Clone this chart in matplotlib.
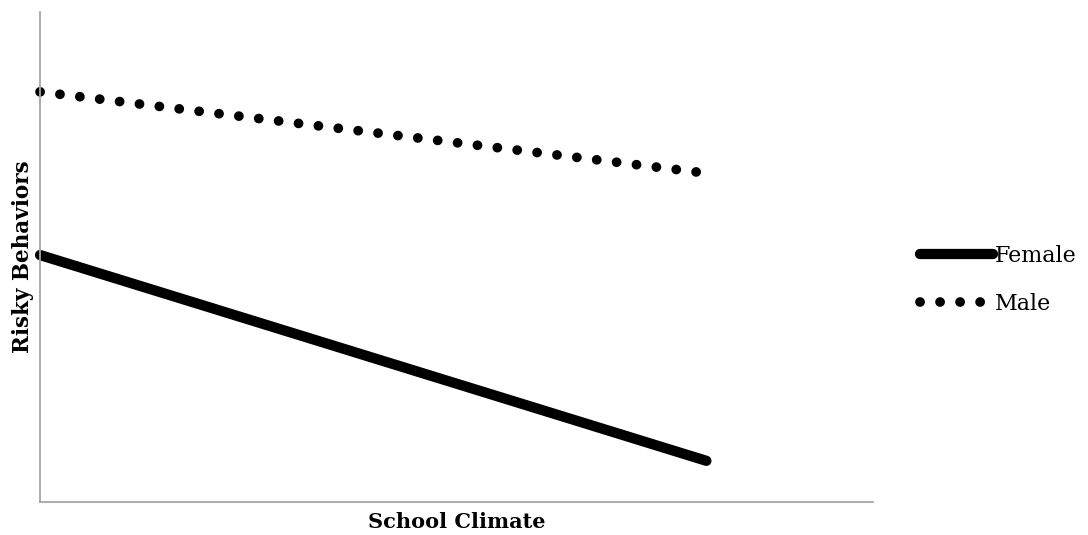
import matplotlib
matplotlib.use("Agg")
import matplotlib.pyplot as plt

# Simple slopes: risky behaviors vs school climate, by gender
climate = [0, 1]
female = [0.504, 0.084]
male = [0.837, 0.671]
series_labels = ["Female", "Male"]

plt.rcParams['font.family'] = ['DejaVu Serif']

fig = plt.figure(figsize=(10.88, 5.35), dpi=100)
ax = fig.add_axes([0.0368, 0.0617, 0.7656, 0.9159])

ax.plot(climate, female, color='black', linewidth=7.4,
        solid_capstyle='round', label=series_labels[0], clip_on=False)
ax.plot(climate, male, color='black', linewidth=7.0,
        linestyle=(0, (0.01, 2.05)), dash_capstyle='round',
        label=series_labels[1], clip_on=False)

ax.set_xlim(0, 1.25)
ax.set_ylim(0, 1)
ax.set_xticks([])
ax.set_yticks([])
for side in ['top', 'right']:
    ax.spines[side].set_visible(False)
for side in ['left', 'bottom']:
    ax.spines[side].set_color('#a6a6a6')
    ax.spines[side].set_linewidth(1.3)

ax.set_xlabel("School Climate", fontsize=15, fontweight='bold', labelpad=7)
ax.set_ylabel("Risky Behaviors", fontsize=15.5, fontweight='bold', labelpad=4)

ax.legend(loc='center left', bbox_to_anchor=(0.8456, 0.477),
          bbox_transform=fig.transFigure, frameon=False, fontsize=16,
          handlelength=3.3, handletextpad=0.05, labelspacing=1.15,
          borderaxespad=0, borderpad=0)

fig.savefig("out.png", dpi=100)
